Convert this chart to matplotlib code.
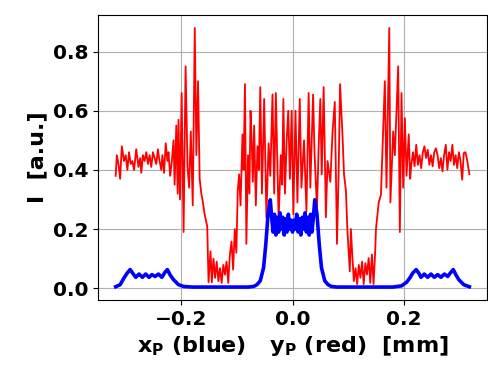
import numpy as np
import matplotlib
matplotlib.use('Agg')
import matplotlib.pyplot as plt

# red curve: y profile
red_x = [-0.318, -0.316, -0.313, -0.310, -0.307, -0.303, -0.300, -0.297, -0.294, -0.291,
         -0.288, -0.285, -0.281, -0.277, -0.274, -0.272, -0.269, -0.266, -0.263, -0.260,
         -0.257, -0.254, -0.251, -0.248, -0.245, -0.242, -0.240, -0.236, -0.234, -0.231,
         -0.228, -0.225, -0.223, -0.220, -0.217, -0.214, -0.212, -0.209, -0.2065, -0.205,
         -0.2024, -0.1994, -0.1959, -0.1923, -0.1888, -0.1859, -0.1829, -0.1794, -0.1758, -0.1729,
         -0.1699, -0.1670, -0.1640, -0.1611, -0.1581, -0.1534, -0.1510, -0.1475, -0.1451, -0.1422,
         -0.1392, -0.1363, -0.1333, -0.1304, -0.1274, -0.1245, -0.1215, -0.1186, -0.1156, -0.1127,
         -0.1097, -0.1068, -0.1038, -0.1010, -0.0985, -0.0960, -0.0935, -0.0900, -0.0880, -0.0855,
         -0.0830, -0.0800, -0.0775, -0.0755, -0.0735, -0.0714, -0.0690, -0.0660, -0.0630, -0.0605,
         -0.0580, -0.0550, -0.0510, -0.0470, -0.0430, -0.0400, -0.0360, -0.0330, -0.0300, -0.0250,
         -0.0210, -0.0185, -0.0165, -0.0136, -0.0105, -0.0077, -0.0047, -0.0015, 0.0015, 0.0053,
         0.0088, 0.0130, 0.0160, 0.0207, 0.0250, 0.0290, 0.0320, 0.0370, 0.0395, 0.0440,
         0.0470, 0.0500, 0.0525, 0.0560, 0.0600, 0.0630, 0.0680, 0.0720, 0.0760, 0.0800,
         0.0830, 0.0855, 0.0900, 0.0926, 0.0960, 0.0986, 0.1010, 0.1030, 0.1050, 0.1074,
         0.1103, 0.1133, 0.1162, 0.1192, 0.1221, 0.1251, 0.1280, 0.1310, 0.1339, 0.1369,
         0.1398, 0.1428, 0.1457, 0.1487, 0.1500, 0.1550, 0.1590, 0.1630, 0.1660, 0.1690,
         0.1740, 0.1760, 0.1810, 0.1840, 0.1900, 0.1930, 0.1960, 0.1990, 0.2020, 0.2050,
         0.2090, 0.2115, 0.2136, 0.2166, 0.2195, 0.2225, 0.2254, 0.2284, 0.2313, 0.2343,
         0.2372, 0.2402, 0.2431, 0.2461, 0.2490, 0.2520, 0.2549, 0.2579, 0.2608, 0.2638,
         0.2667, 0.2697, 0.2726, 0.2756, 0.2785, 0.2815, 0.2844, 0.2874, 0.2903, 0.2933,
         0.2962, 0.2992, 0.3021, 0.3051, 0.3080, 0.3110, 0.3139, 0.318]
red_y = [0.38, 0.45, 0.42, 0.37, 0.48, 0.43, 0.45, 0.40, 0.46, 0.42,
         0.43, 0.40, 0.47, 0.41, 0.44, 0.39, 0.45, 0.43, 0.46, 0.42,
         0.45, 0.41, 0.46, 0.44, 0.42, 0.47, 0.44, 0.40, 0.45, 0.39,
         0.49, 0.43, 0.46, 0.38, 0.43, 0.50, 0.35, 0.55, 0.32, 0.57,
         0.30, 0.66, 0.19, 0.75, 0.41, 0.34, 0.53, 0.28, 0.88, 0.45,
         0.70, 0.37, 0.32, 0.29, 0.25, 0.21, 0.02, 0.125, 0.02, 0.10,
         0.035, 0.09, 0.024, 0.068, 0.018, 0.079, 0.046, 0.09, 0.018, 0.113,
         0.158, 0.063, 0.20, 0.12, 0.33, 0.385, 0.28, 0.52, 0.40, 0.69,
         0.15, 0.45, 0.32, 0.60, 0.50, 0.36, 0.55, 0.28, 0.48, 0.40,
         0.68, 0.32, 0.64, 0.24, 0.49, 0.38, 0.655, 0.32, 0.66, 0.23,
         0.45, 0.35, 0.64, 0.32, 0.50, 0.60, 0.37, 0.60, 0.25, 0.60,
         0.29, 0.64, 0.34, 0.50, 0.26, 0.66, 0.34, 0.655, 0.46, 0.27,
         0.48, 0.64, 0.385, 0.68, 0.24, 0.43, 0.36, 0.53, 0.63, 0.15,
         0.40, 0.69, 0.51, 0.385, 0.33, 0.20, 0.12, 0.057, 0.20, 0.114,
         0.024, 0.068, 0.014, 0.079, 0.035, 0.090, 0.014, 0.085, 0.046, 0.102,
         0.018, 0.114, 0.014, 0.125, 0.20, 0.29, 0.316, 0.53, 0.70, 0.34,
         0.88, 0.29, 0.53, 0.45, 0.75, 0.19, 0.66, 0.34, 0.575, 0.38,
         0.52, 0.37, 0.417, 0.46, 0.412, 0.485, 0.417, 0.45, 0.406, 0.46,
         0.48, 0.44, 0.468, 0.417, 0.45, 0.412, 0.46, 0.473, 0.45, 0.406,
         0.44, 0.395, 0.45, 0.485, 0.40, 0.46, 0.43, 0.485, 0.417, 0.45,
         0.406, 0.46, 0.43, 0.367, 0.457, 0.46, 0.434, 0.386]

# blue curve: x profile
blue_x = [-0.318, -0.310, -0.303, -0.297, -0.292, -0.287, -0.282, -0.276, -0.270, -0.264,
          -0.258, -0.253, -0.247, -0.241, -0.235, -0.229, -0.225, -0.220, -0.214, -0.205,
          -0.196, -0.180, -0.080, -0.070, -0.064, -0.058, -0.052, -0.048, -0.044, -0.040,
          -0.0375, -0.035, -0.0325, -0.030, -0.0275, -0.025, -0.0225, -0.020, -0.0175, -0.015,
          -0.0125, -0.010, -0.0075, -0.005, -0.0025, 0.0, 0.0025, 0.005, 0.0075, 0.010,
          0.0125, 0.015, 0.0175, 0.020, 0.0225, 0.025, 0.0275, 0.030, 0.0325, 0.035,
          0.0375, 0.040, 0.044, 0.048, 0.052, 0.058, 0.064, 0.070, 0.080, 0.180,
          0.196, 0.205, 0.211, 0.2165, 0.2224, 0.228, 0.231, 0.237, 0.243, 0.249,
          0.255, 0.261, 0.267, 0.273, 0.279, 0.284, 0.289, 0.294, 0.299, 0.308, 0.318]
blue_y = [0.005, 0.012, 0.035, 0.052, 0.063, 0.050, 0.037, 0.048, 0.037, 0.048,
          0.037, 0.046, 0.040, 0.048, 0.037, 0.055, 0.063, 0.045, 0.029, 0.012,
          0.006, 0.004, 0.004, 0.006, 0.012, 0.025, 0.07, 0.15, 0.25, 0.299,
          0.24, 0.19, 0.25, 0.18, 0.24, 0.19, 0.255, 0.20, 0.24, 0.18,
          0.235, 0.19, 0.25, 0.20, 0.23, 0.19, 0.23, 0.20, 0.25, 0.19,
          0.235, 0.18, 0.24, 0.20, 0.255, 0.19, 0.24, 0.18, 0.25, 0.19,
          0.24, 0.299, 0.25, 0.15, 0.07, 0.025, 0.012, 0.006, 0.004, 0.004,
          0.008, 0.020, 0.035, 0.052, 0.063, 0.048, 0.037, 0.048, 0.037, 0.048,
          0.037, 0.046, 0.037, 0.048, 0.040, 0.052, 0.063, 0.045, 0.029, 0.012, 0.005]

fig = plt.figure(figsize=(4.89, 3.72), dpi=100)
ax = fig.add_axes([0.2004, 0.1935, 0.7956, 0.7662])

ax.plot(red_x, red_y, color='red', lw=1.3)
ax.plot(blue_x, blue_y, color='blue', lw=2.6)

ax.set_xticks([-0.2, 0.0, 0.2])
ax.set_yticks([0.0, 0.2, 0.4, 0.6, 0.8])
ax.grid(True)
ax.tick_params(labelsize=14.5)
for lab in ax.get_xticklabels() + ax.get_yticklabels():
    lab.set_fontweight('bold')

ax.set_xlabel(r'x$_\mathbf{P}$ (blue)   y$_\mathbf{P}$ (red)  [mm]', fontsize=16, fontweight='bold')
ax.set_ylabel('I  [a.u.]', fontsize=16, fontweight='bold')

fig.savefig('out.png', dpi=100)
